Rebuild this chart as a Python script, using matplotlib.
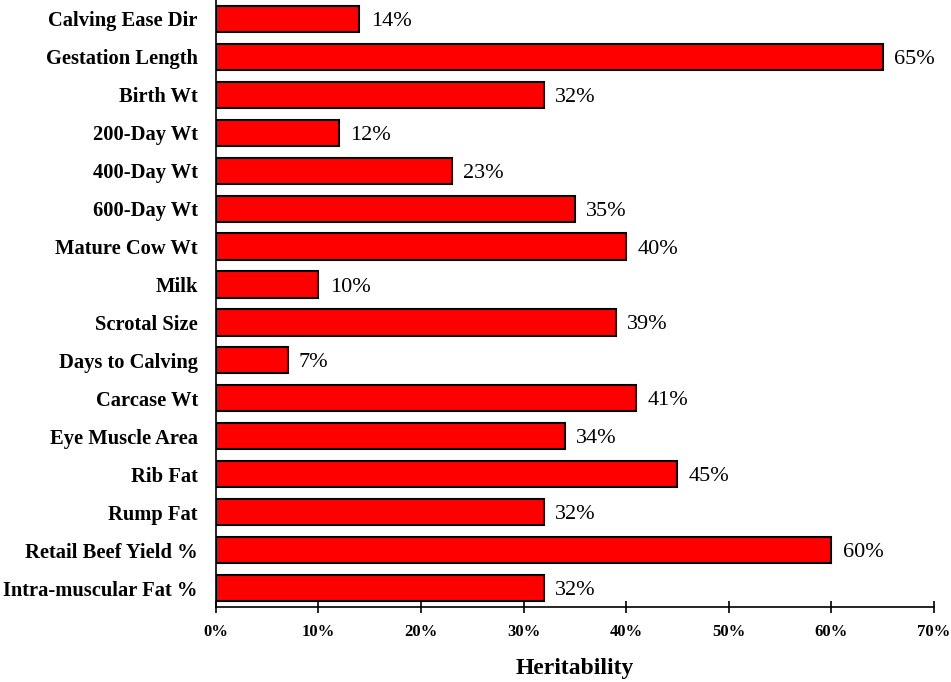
import matplotlib.pyplot as plt

plt.rcParams['font.family'] = ['Liberation Serif', 'DejaVu Serif']

traits = ['Calving Ease Dir', 'Gestation Length', 'Birth Wt', '200-Day Wt',
          '400-Day Wt', '600-Day Wt', 'Mature Cow Wt', 'Milk', 'Scrotal Size',
          'Days to Calving', 'Carcase Wt', 'Eye Muscle Area', 'Rib Fat',
          'Rump Fat', 'Retail Beef Yield %', 'Intra-muscular Fat %']
heritability = [14, 65, 32, 12, 23, 35, 40, 10, 39, 7, 41, 34, 45, 32, 60, 32]
xticks = [0, 10, 20, 30, 40, 50, 60, 70]
xtick_labels = ['0%', '10%', '20%', '30%', '40%', '50%', '60%', '70%']

fig = plt.figure(figsize=(9.51, 6.82), dpi=100)
ax = fig.add_axes([0.227, 0.110, 0.755, 0.890])

pos = range(len(traits))
ax.barh(pos, heritability, height=0.69, color='#ff0000', edgecolor='black', linewidth=1.5)
for i, v in enumerate(heritability):
    ax.text(v + 1.1, i, f'{v}%', va='center_baseline', ha='left', fontsize=16)

ax.set_yticks(list(pos))
ax.set_yticklabels(traits, fontsize=14.8, fontweight='bold')
ax.set_ylim(len(traits) - 0.5, -0.5)
ax.set_xlim(0, 70)
ax.set_xticks(xticks)
ax.set_xticklabels(xtick_labels, fontsize=12, fontweight='bold')
ax.tick_params(axis='y', length=0, pad=13)
ax.tick_params(axis='x', direction='inout', length=8, width=1.2, pad=8)
ax.spines['top'].set_visible(False)
ax.spines['right'].set_visible(False)
ax.spines['left'].set_linewidth(1.2)
ax.spines['bottom'].set_linewidth(1.2)
ax.set_xlabel('Heritability', fontsize=17, fontweight='bold')
ax.xaxis.label.set_va('center')
ax.xaxis.set_label_coords(0.5, -0.102)

fig.savefig('out.png', dpi=100)
